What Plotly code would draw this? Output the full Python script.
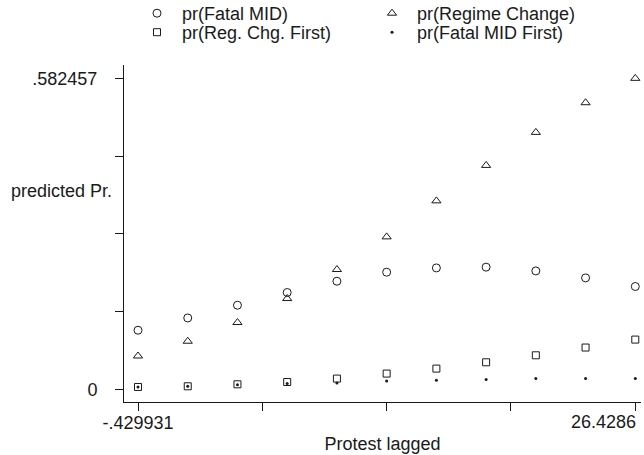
import plotly.graph_objects as go

# ---- data ----
x_vals = [-0.429931, 2.255932, 4.941795, 7.627658, 10.313521, 12.999384,
          15.685247, 18.371110, 21.056973, 23.742836, 26.4286]
fatal_mid = [0.1111, 0.1341, 0.1579, 0.1817, 0.2028, 0.2197, 0.2277, 0.2291, 0.2221, 0.2090, 0.1929]
regime_change = [0.0629, 0.0905, 0.1255, 0.1704, 0.2247, 0.2858, 0.3532, 0.4195, 0.4813, 0.5368, 0.582457]
reg_chg_first = [0.0049, 0.0062, 0.0099, 0.0142, 0.0206, 0.0300, 0.0393, 0.0511, 0.0642, 0.0787, 0.0936]
fatal_mid_first = [0.0049, 0.0062, 0.0090, 0.0112, 0.0124, 0.0161, 0.0174, 0.0187, 0.0206, 0.0206, 0.0206]

y_ticks = [0, 0.145614, 0.291229, 0.436843, 0.582457]
y_ticktext = ["0", "", "", "", ".582457"]
x_ticks = [-0.429931, 6.284702, 12.999335, 19.713968, 26.4286]
x_ticktext = ["-.429931", "", "", "", ""]
last_x_label = "26.4286"

FONT = "Liberation Sans, Arial, sans-serif"
INK = "#1a1a1a"
FS = 18

fig = go.Figure()
fig.add_trace(go.Scatter(x=x_vals, y=fatal_mid, mode="markers", name="pr(Fatal MID)", legend="legend",
                         marker=dict(symbol="circle-open", size=8, color=INK, line=dict(width=1))))
fig.add_trace(go.Scatter(x=x_vals, y=regime_change, mode="markers", name="pr(Regime Change)", legend="legend",
                         marker=dict(symbol="triangle-up-open", size=8, color=INK, line=dict(width=1))))
fig.add_trace(go.Scatter(x=x_vals, y=reg_chg_first, mode="markers", name="pr(Reg. Chg. First)", legend="legend2",
                         marker=dict(symbol="square-open", size=7, color=INK, line=dict(width=1))))
fig.add_trace(go.Scatter(x=x_vals, y=fatal_mid_first, mode="markers", name="pr(Fatal MID First)", legend="legend2",
                         marker=dict(symbol="circle", size=3, color=INK, line=dict(width=0))))

leg_common = dict(orientation="h", xref="container", yref="container", x=132 / 644,
                  xanchor="left", yanchor="middle", entrywidth=180, itemwidth=40,
                  traceorder="normal", font=dict(size=FS), bgcolor="rgba(0,0,0,0)")

fig.update_layout(
    width=644, height=455,
    margin=dict(l=124, r=3, t=65, b=53, autoexpand=False),
    paper_bgcolor="white", plot_bgcolor="white",
    font=dict(family=FONT, size=FS, color=INK),
    showlegend=True,
    legend=dict(leg_common, y=1 - 13.5 / 455),
    legend2=dict(leg_common, y=1 - 32.5 / 455),
    xaxis=dict(range=[-1.1865, 26.737], tickvals=x_ticks, ticktext=x_ticktext,
               showline=True, linecolor=INK, linewidth=1, ticks="outside", ticklen=8,
               tickcolor=INK, showgrid=False, zeroline=False, ticklabelstandoff=-4,
               title=dict(text="Protest lagged", font=dict(size=FS), standoff=5)),
    yaxis=dict(range=[-0.0232, 0.6074], tickvals=y_ticks, ticktext=y_ticktext,
               showline=True, linecolor=INK, linewidth=1, ticks="outside", ticklen=8,
               tickcolor=INK, showgrid=False, zeroline=False, ticklabelstandoff=14),
    annotations=[
        dict(text="predicted Pr.", xref="paper", yref="paper", x=-0.12, y=0.626,
             xanchor="center", yanchor="middle", showarrow=False, font=dict(size=FS)),
        dict(text=last_x_label, xref="x", yref="paper", x=x_ticks[-1], y=0,
             xanchor="right", yanchor="top", yshift=-8, xshift=3, showarrow=False,
             font=dict(size=FS)),
    ],
)

fig.write_html("out.html", config={"displayModeBar": False},
               post_script="document.body.style.margin='0';")
